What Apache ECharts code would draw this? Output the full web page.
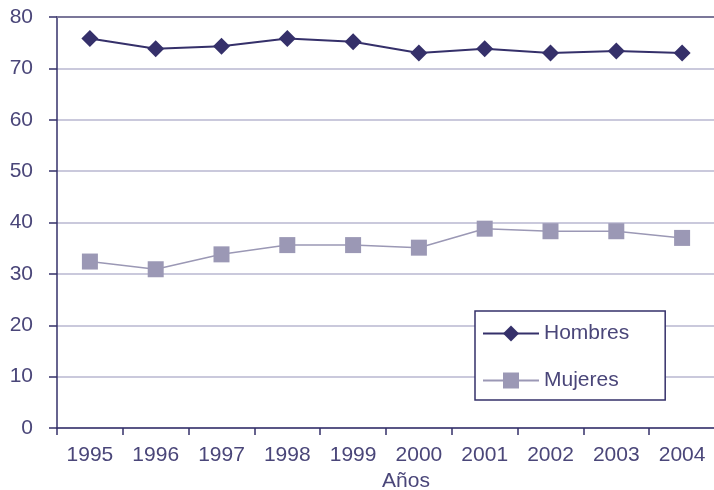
<!DOCTYPE html>
<html><head><meta charset="utf-8">
<script src="https://cdn.jsdelivr.net/npm/echarts@6/dist/echarts.min.js"></script>
<style>html,body{margin:0;padding:0;background:#fff}#c{width:714px;height:490px}</style>
</head><body><div id="c"></div>
<script>
const years = ['1995','1996','1997','1998','1999','2000','2001','2002','2003','2004'];
const hombres = [75.8, 73.8, 74.3, 75.8, 75.2, 73.0, 73.8, 73.0, 73.4, 73.0];
const mujeres = [32.4, 30.9, 33.8, 35.6, 35.6, 35.1, 38.8, 38.3, 38.3, 37.0];
const yTicks = {min: 0, max: 80, interval: 10};

const FONT = '"Liberation Sans", Arial, sans-serif';
const TXT = '#4a4679';
const DARK = '#35306a';
const LIGHT = '#9b98b5';

const chart = echarts.init(document.getElementById('c'), null, {renderer: 'canvas'});
chart.setOption({
  animation: false,
  backgroundColor: '#ffffff',
  grid: {left: 57, top: 17, width: 658, height: 411, containLabel: false, outerBoundsMode: 'none'},
  legend: {
    orient: 'vertical', left: 475, top: 311,
    padding: [12, 36, 9, 7], itemGap: 26, itemWidth: 56, itemHeight: 20,
    borderColor: DARK, borderWidth: 1.5, backgroundColor: '#fff',
    textStyle: {fontFamily: FONT, fontSize: 21, color: TXT},
    data: ['Hombres', 'Mujeres']
  },
  xAxis: [{
    type: 'category', data: years, boundaryGap: true,
    name: 'Años', nameLocation: 'middle', nameGap: 42,
    nameTextStyle: {fontFamily: FONT, fontSize: 21, color: TXT, padding: [0, 0, 0, 40]},
    axisLine: {lineStyle: {color: DARK, width: 1.5}},
    axisTick: {show: true, length: 7, lineStyle: {color: DARK, width: 1.5}},
    axisLabel: {fontFamily: FONT, fontSize: 21, color: TXT, margin: 17},
    splitLine: {show: false}
  }, {
    type: 'category', data: years, position: 'top',
    axisLine: {lineStyle: {color: '#7b7799', width: 2}},
    axisTick: {show: false}, axisLabel: {show: false}, splitLine: {show: false}
  }],
  yAxis: {
    type: 'value', min: yTicks.min, max: yTicks.max, interval: yTicks.interval,
    axisLine: {show: true, lineStyle: {color: DARK, width: 1.5}},
    axisTick: {show: true, length: 8, lineStyle: {color: DARK, width: 1.5}},
    axisLabel: {fontFamily: FONT, fontSize: 21, color: TXT, margin: 24},
    splitLine: {show: true, lineStyle: {color: '#b9b7d0', width: 1.5}}
  },
  series: [{
    name: 'Hombres', type: 'line', data: hombres,
    symbol: 'diamond', symbolSize: 17,
    lineStyle: {color: DARK, width: 2}, itemStyle: {color: DARK},
    z: 3
  }, {
    name: 'Mujeres', type: 'line', data: mujeres,
    symbol: 'rect', symbolSize: 16,
    lineStyle: {color: LIGHT, width: 1.5}, itemStyle: {color: LIGHT},
    z: 2
  }]
});
</script></body></html>
